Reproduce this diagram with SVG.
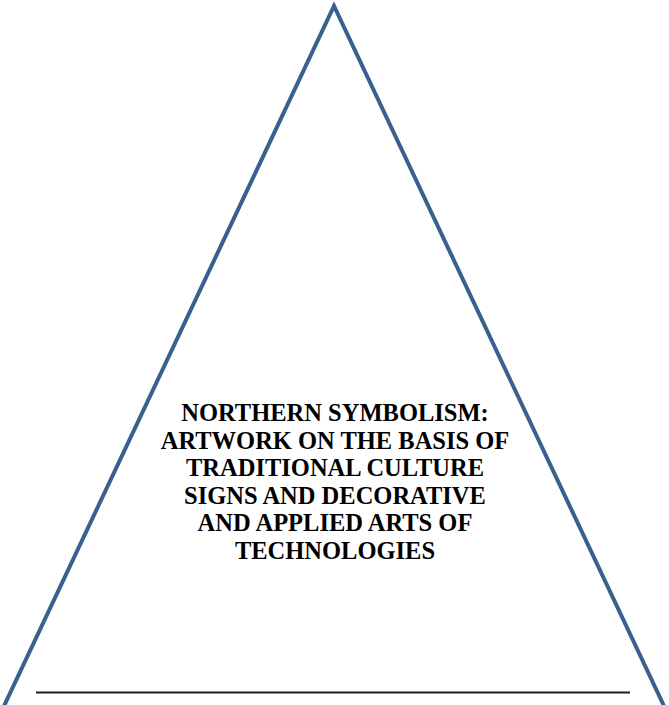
<svg xmlns="http://www.w3.org/2000/svg" width="669" height="705" viewBox="0 0 669 705">
<style>
.tri{fill:none;stroke:#3A6090;stroke-width:4;stroke-linejoin:miter;stroke-miterlimit:10}
.base{stroke:#1e1e1e;stroke-width:2}
.lbl{font-family:"Liberation Serif","Times New Roman",serif;font-weight:bold;font-size:24.5px;fill:#000;text-anchor:middle}
</style>
<rect width="669" height="705" fill="#fff"/>
<g id="triangle">
<path class="tri" d="M -2.6,720 L 334,6 L 670.6,720"/>
</g>
<g id="connectors">
<line class="base" x1="36" y1="692.5" x2="630" y2="692.5"/>
</g>
<g id="label">
<text class="lbl" x="335" y="421">NORTHERN SYMBOLISM:</text>
<text class="lbl" x="335" y="448.6">ARTWORK ON THE BASIS OF</text>
<text class="lbl" x="335" y="476.2">TRADITIONAL CULTURE</text>
<text class="lbl" x="335" y="503.8">SIGNS AND DECORATIVE</text>
<text class="lbl" x="335" y="531.4">AND APPLIED ARTS OF</text>
<text class="lbl" x="335" y="559">TECHNOLOGIES</text>
</g>
</svg>
